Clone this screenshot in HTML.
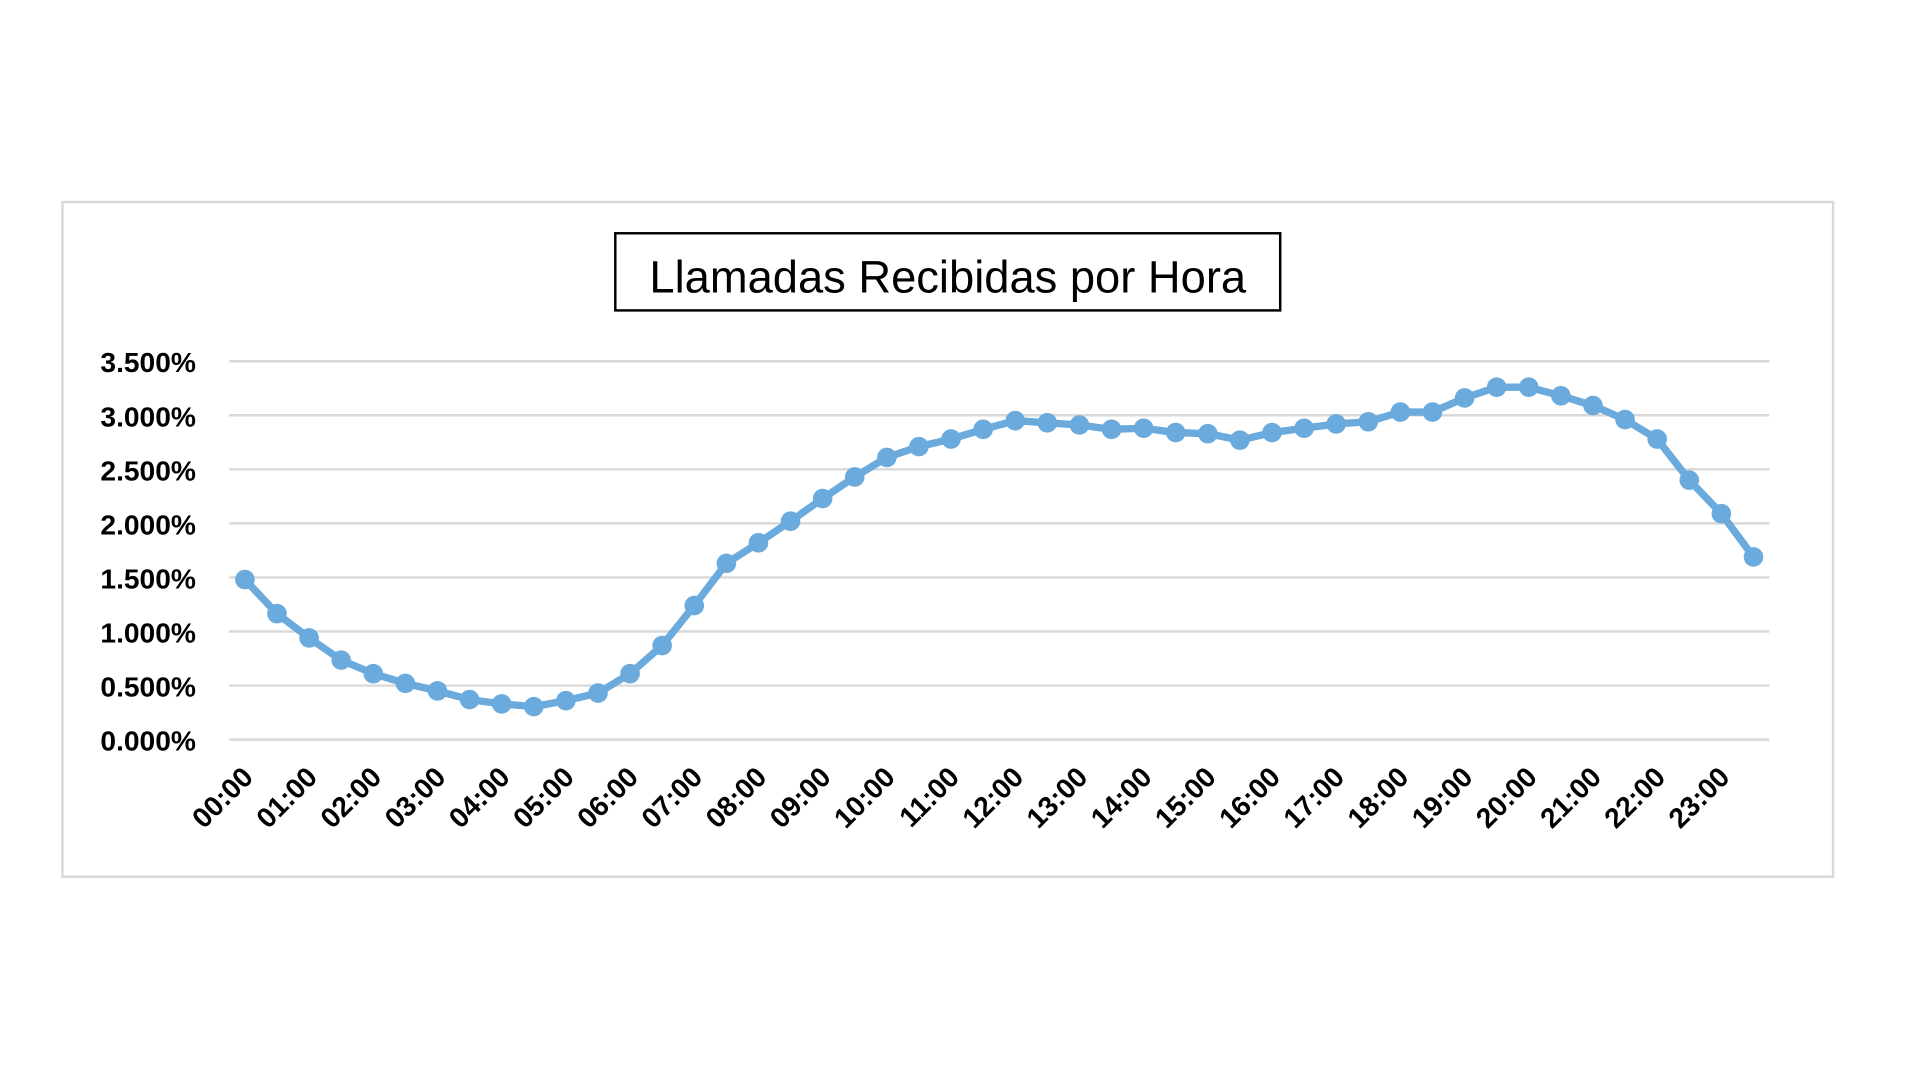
<!DOCTYPE html>
<html><head><meta charset="utf-8"><style>
html,body{margin:0;padding:0;background:#fff;}
svg{display:block;}
</style></head><body>
<svg id="chart" width="1920" height="1080" viewBox="0 0 1568 882" xmlns="http://www.w3.org/2000/svg" font-family="'Liberation Sans', sans-serif">
<rect x="51" y="165" width="1446" height="551" fill="#fff" stroke="#d9d9d9" stroke-width="2"/>
<rect x="502.5" y="190.5" width="543" height="63" fill="#fff" stroke="#000" stroke-width="2"/>
<text x="774" y="239" text-anchor="middle" font-size="37" fill="#000">Llamadas Recibidas por Hora</text>
<g id="grid"></g><g id="ylabels"></g><g id="xlabels"></g><g id="series"></g>
</svg>
<script>
const yTicks = [0, 0.5, 1.0, 1.5, 2.0, 2.5, 3.0, 3.5];
const yTickLabels = ["0.000%","0.500%","1.000%","1.500%","2.000%","2.500%","3.000%","3.500%"];
const hourLabels = ["00:00","01:00","02:00","03:00","04:00","05:00","06:00","07:00","08:00","09:00","10:00","11:00","12:00","13:00","14:00","15:00","16:00","17:00","18:00","19:00","20:00","21:00","22:00","23:00"];
const values = [1.48,1.165,0.94,0.735,0.61,0.52,0.45,0.37,0.33,0.305,0.36,0.43,0.61,0.87,1.24,1.63,1.82,2.02,2.23,2.43,2.61,2.71,2.78,2.87,2.95,2.93,2.91,2.87,2.88,2.84,2.83,2.77,2.84,2.88,2.92,2.94,3.03,3.03,3.16,3.26,3.26,3.18,3.09,2.96,2.78,2.40,2.09,1.69];

const NS = "http://www.w3.org/2000/svg";
const plotL = 187, plotR = 1445, y0 = 604, y35 = 295;
const x0 = 200, x1 = 1432;
function yScale(v){ return y0 - (v/3.5)*(y0-y35); }
function xScale(i){ return x0 + i*(x1-x0)/(values.length-1); }
function mk(tag, attrs, parent){ const e=document.createElementNS(NS,tag); for(const k in attrs) e.setAttribute(k,attrs[k]); parent.appendChild(e); return e; }

const grid = document.getElementById('grid');
const yl = document.getElementById('ylabels');
yTicks.forEach((t,i)=>{
  const y = yScale(t);
  const l = mk('line',{x1:plotL,x2:plotR,y1:y,y2:y,stroke:'#d9d9d9','stroke-width':2},grid);
  
  
  const tx = mk('text',{x:160,y:y+9,'text-anchor':'end','font-size':23,'font-weight':'bold',fill:'#000'},yl);
  tx.textContent = yTickLabels[i];
  
  
});

const xl = document.getElementById('xlabels');
hourLabels.forEach((h,i)=>{
  const x = xScale(i*2) + 8, y = 636;
  const tx = mk('text',{x:x,y:y,'text-anchor':'end','font-size':23,'font-weight':'bold',fill:'#000',transform:`rotate(-45 ${x} ${y})`},xl);
  tx.textContent = h;
  
  
});

const s = document.getElementById('series');
const pts = values.map((v,i)=>xScale(i)+','+yScale(v)).join(' ');
const line = mk('polyline',{points:pts,fill:'none',stroke:'#6aaadc','stroke-width':6,'stroke-linejoin':'round'},s);


values.forEach((v,i)=>{
  const c = mk('circle',{cx:xScale(i),cy:yScale(v),r:8,fill:'#6aaadc'},s);
  
  
});
</script>
</body></html>
